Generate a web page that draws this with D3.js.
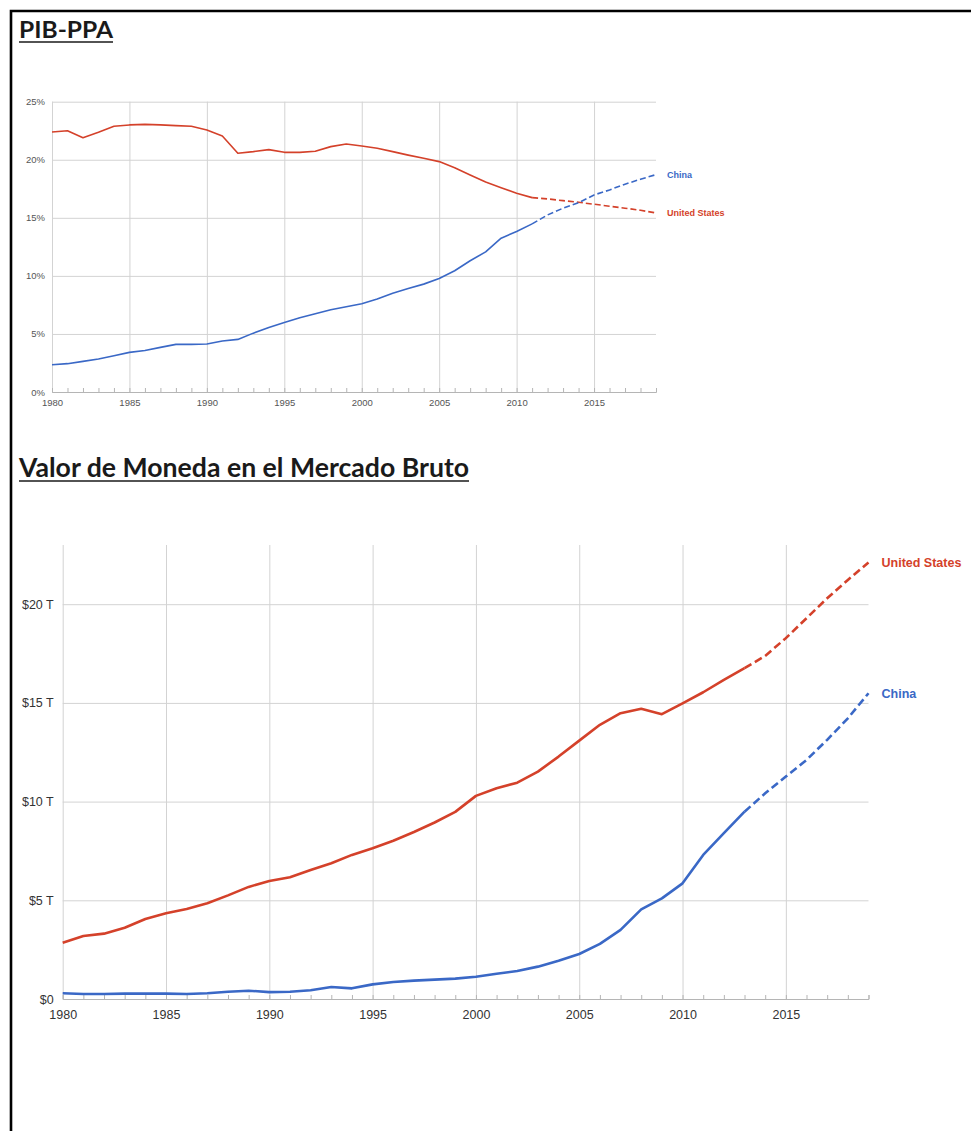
<!DOCTYPE html>
<html>
<head>
<meta charset="utf-8">
<script src="https://cdn.jsdelivr.net/npm/d3@7"></script>
<style>
  body { margin: 0; background: #fff; }
  svg { display: block; }
  .grid line { stroke: #d3d3d3; stroke-width: 1; }
  .grid path { display: none; }
</style>
</head>
<body>
<div id="chart"></div>
<script>
// anos
const years = d3.range(1980, 2020);

// PIB-PPA, % del mundo
const pibUS = [22.39, 22.5, 21.9, 22.36, 22.88, 23.0, 23.05, 23.0, 22.94, 22.88,
  22.56, 22.05, 20.56, 20.7, 20.87, 20.64, 20.64, 20.73, 21.13, 21.36,
  21.19, 20.99, 20.7, 20.4, 20.13, 19.84, 19.32, 18.69, 18.09, 17.6,
  17.12, 16.74, 16.63, 16.48, 16.34, 16.17, 16.0, 15.83, 15.65, 15.42];
const pibChina = [2.35, 2.44, 2.64, 2.84, 3.12, 3.41, 3.58, 3.84, 4.1, 4.1,
  4.13, 4.39, 4.53, 5.07, 5.56, 5.99, 6.39, 6.74, 7.08, 7.34,
  7.6, 8.0, 8.51, 8.92, 9.29, 9.78, 10.44, 11.3, 12.07, 13.25,
  13.82, 14.48, 15.25, 15.83, 16.3, 16.97, 17.4, 17.9, 18.32, 18.72];

// Valor de mercado, billones USD
const mercadoUS = [2.85, 3.19, 3.31, 3.61, 4.05, 4.34, 4.56, 4.85, 5.25, 5.68,
  5.98, 6.17, 6.54, 6.88, 7.3, 7.64, 8.02, 8.46, 8.94, 9.48,
  10.29, 10.68, 10.96, 11.52, 12.28, 13.09, 13.89, 14.48, 14.7, 14.43,
  14.98, 15.54, 16.17, 16.76, 17.38, 18.28, 19.29, 20.3, 21.23, 22.11];
const mercadoChina = [0.29, 0.25, 0.25, 0.27, 0.27, 0.27, 0.25, 0.29, 0.37, 0.42,
  0.35, 0.37, 0.44, 0.61, 0.54, 0.74, 0.86, 0.93, 0.98, 1.03,
  1.13, 1.28, 1.42, 1.64, 1.94, 2.28, 2.79, 3.5, 4.54, 5.1,
  5.86, 7.3, 8.4, 9.49, 10.42, 11.27, 12.11, 13.13, 14.22, 15.49];

const xTicks = [1980, 1985, 1990, 1995, 2000, 2005, 2010, 2015];
const pibTicks = [0, 5, 10, 15, 20, 25];
const mercadoTicks = [0, 5, 10, 15, 20];

const red = "#d4412a";
const blue = "#3a68c6";

const svg = d3.select("#chart").append("svg").attr("width", 971).attr("height", 1131);

// marco
svg.append("path")
  .attr("d", "M11,1131V11H971")
  .attr("fill", "none")
  .attr("stroke", "#000")
  .attr("stroke-width", 2.6);

function title(text, x, y, size, len) {
  svg.append("text")
    .attr("x", x).attr("y", y)
    .attr("font-family", "Lato, 'Open Sans', sans-serif")
    .attr("font-weight", 700)
    .attr("font-size", size)
    .attr("fill", "#1a1a1a")
    .attr("textLength", len)
    .attr("lengthAdjust", "spacingAndGlyphs")
    .text(text);
  svg.append("line")
    .attr("x1", x).attr("x2", x + len)
    .attr("y1", y + 4).attr("y2", y + 4)
    .attr("stroke", "#1a1a1a").attr("stroke-width", 1.5);
}

title("PIB-PPA", 19, 38, 22, 94);
title("Valor de Moneda en el Mercado Bruto", 19, 477, 26, 450);

function drawChart(opt) {
  const { left, right, top, bottom, yMax, yTicks, yFormat, series, splitYear, fs, lw } = opt;
  const x = d3.scaleLinear().domain([1980, 2019]).range([left, right]);
  const y = d3.scaleLinear().domain([0, yMax]).range([bottom, top]);
  const g = svg.append("g");

  // rejilla horizontal + etiquetas
  const yAxis = g.append("g")
    .attr("class", "grid")
    .attr("transform", `translate(${left},0)`)
    .call(d3.axisLeft(y).tickValues(yTicks).tickSize(-(right - left)).tickPadding(opt.yPad).tickFormat(yFormat));
  yAxis.selectAll("text")
    .attr("font-family", "'Liberation Sans', Arial, sans-serif")
    .attr("font-size", fs)
    .attr("fill", opt.textColor);

  // rejilla vertical
  g.append("g")
    .attr("class", "grid")
    .attr("transform", `translate(0,${bottom})`)
    .call(d3.axisBottom(x).tickValues(xTicks).tickSize(-(bottom - opt.gridTop)).tickFormat(""));

  // eje x con marcas anuales
  const xAxis = g.append("g")
    .attr("transform", `translate(0,${bottom})`)
    .call(d3.axisBottom(x).tickValues(years).tickSize(-4).tickPadding(opt.xPad)
      .tickFormat((d) => (d % 5 === 0 && d < 2019 ? d : "")));
  xAxis.select(".domain").attr("stroke", "#b5b5b5");
  xAxis.selectAll("line").attr("stroke", "#b5b5b5");
  xAxis.selectAll("text")
    .attr("font-family", "'Liberation Sans', Arial, sans-serif")
    .attr("font-size", fs)
    .attr("fill", opt.textColor);

  const line = d3.line().x((d) => x(d[0])).y((d) => y(d[1]));

  series.forEach((s) => {
    const pts = years.map((yr, i) => [yr, s.values[i]]);
    g.append("path")
      .datum(pts.filter((d) => d[0] <= splitYear))
      .attr("d", line)
      .attr("fill", "none")
      .attr("stroke", s.color)
      .attr("stroke-width", lw)
      .attr("stroke-linejoin", "round");
    g.append("path")
      .datum(pts.filter((d) => d[0] >= splitYear))
      .attr("d", line)
      .attr("fill", "none")
      .attr("stroke", s.color)
      .attr("stroke-width", lw)
      .attr("stroke-dasharray", opt.dash);
    g.append("text")
      .attr("x", x(2019) + opt.labelGap)
      .attr("y", y(s.values[s.values.length - 1]))
      .attr("dy", "0.35em")
      .attr("font-family", "'Liberation Sans', Arial, sans-serif")
      .attr("font-weight", 700)
      .attr("font-size", opt.labelFs)
      .attr("fill", s.color)
      .text(s.name);
  });
}

drawChart({
  left: 52, right: 656, top: 101.7, bottom: 392, gridTop: 101.7,
  yMax: 25, yTicks: pibTicks, yFormat: (d) => d + "%",
  series: [
    { name: "United States", values: pibUS, color: red },
    { name: "China", values: pibChina, color: blue }
  ],
  splitYear: 2011, fs: 9.5, lw: 1.6, yPad: 7, xPad: 7,
  textColor: "#555", labelGap: 11, labelFs: 9, dash: "6,3"
});

drawChart({
  left: 62.7, right: 868.5, top: 999 - 23 * 19.74, bottom: 999, gridTop: 545,
  yMax: 23, yTicks: mercadoTicks, yFormat: (d) => (d === 0 ? "$0" : "$" + d + " T"),
  series: [
    { name: "United States", values: mercadoUS, color: red },
    { name: "China", values: mercadoChina, color: blue }
  ],
  splitYear: 2013, fs: 12.5, lw: 2.6, yPad: 9, xPad: 11.5,
  textColor: "#333", labelGap: 13, labelFs: 12.5, dash: "8,4"
});
</script>
</body>
</html>
